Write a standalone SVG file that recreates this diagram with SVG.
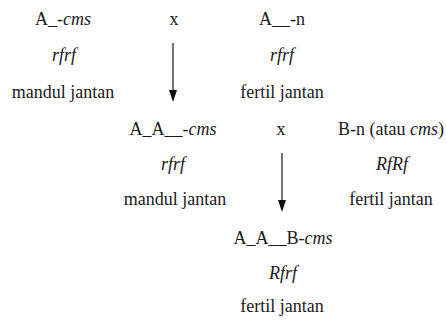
<svg xmlns="http://www.w3.org/2000/svg" width="446" height="320" viewBox="0 0 446 320">
<style>
text{font-family:Liberation Serif,DejaVu Serif,serif;font-size:18px;fill:#1a1a1a;text-anchor:middle}
.i{font-style:italic}
.ln{stroke:#444;stroke-width:1.5;fill:none}
.hd{fill:#111}
</style>
<rect width="446" height="320" fill="#fff"/>
<g id="p1">
<text x="63" y="25">A_-<tspan class="i">cms</tspan></text>
<text x="64" y="61" class="i">rfrf</text>
<text x="63" y="98">mandul jantan</text>
</g>
<g id="cross1"><text x="174" y="25">x</text></g>
<g id="p2">
<text x="282" y="25">A__-n</text>
<text x="282" y="61" class="i">rfrf</text>
<text x="282" y="98">fertil jantan</text>
</g>
<g id="p3">
<text x="173" y="135">A_A__-<tspan class="i">cms</tspan></text>
<text x="173" y="170" class="i">rfrf</text>
<text x="175" y="205">mandul jantan</text>
</g>
<g id="cross2"><text x="281" y="135">x</text></g>
<g id="p4">
<text x="391" y="135">B-n (atau <tspan class="i">cms</tspan>)</text>
<text x="392" y="170" class="i">RfRf</text>
<text x="391" y="205">fertil jantan</text>
</g>
<g id="p5">
<text x="283" y="244">A_A__B-<tspan class="i">cms</tspan></text>
<text x="283" y="279" class="i">Rfrf</text>
<text x="282" y="312">fertil jantan</text>
</g>
<g id="connectors">
<line class="ln" x1="173" y1="43" x2="173" y2="92"/>
<polygon class="hd" points="169,90 177,90 173,102"/>
<line class="ln" x1="282" y1="153" x2="282" y2="202"/>
<polygon class="hd" points="278,200 286,200 282,212"/>
</g>
</svg>
